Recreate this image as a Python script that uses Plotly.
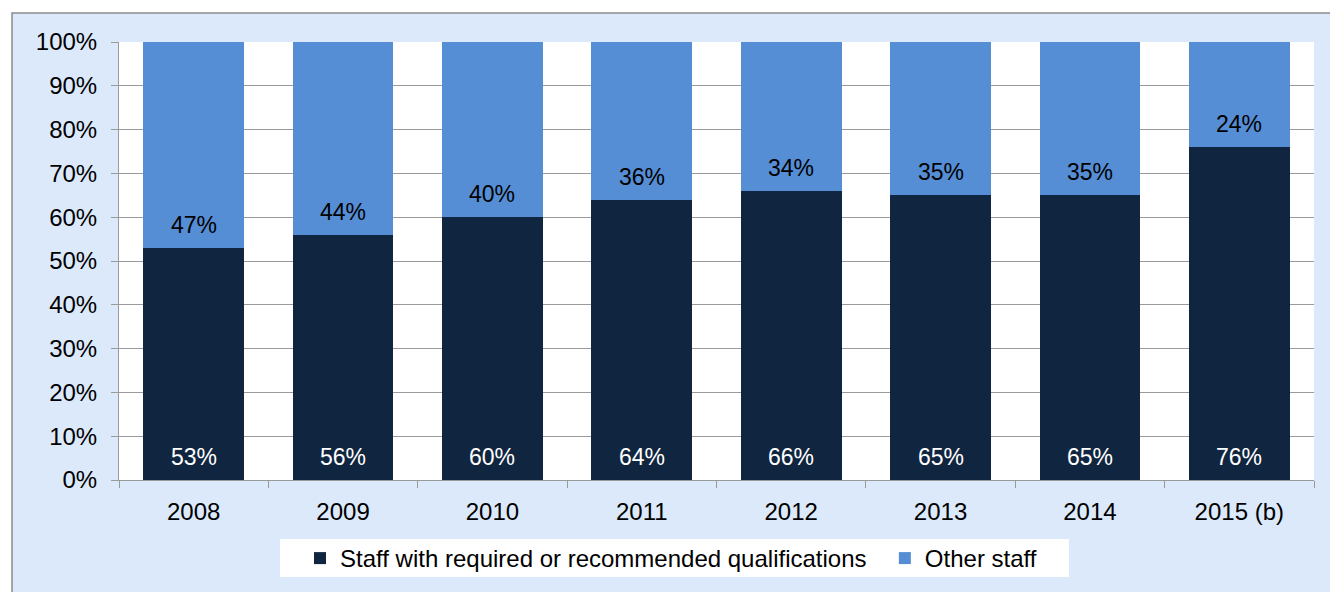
import plotly.graph_objects as go

# Share of staff by qualification status, per year (percent)
years = ["2008", "2009", "2010", "2011", "2012", "2013", "2014", "2015 (b)"]
qualified = [53, 56, 60, 64, 66, 65, 65, 76]
other = [47, 44, 40, 36, 34, 35, 35, 24]
y_ticks = list(range(0, 101, 10))
y_tick_text = [f"{v}%" for v in y_ticks]

DARK = "#10253f"
LIGHT = "#558ed5"
PANEL = "#dbe9fb"
GRID = "#9a9a9a"
FONT = "Liberation Sans, Arial, sans-serif"

W, H = 1330, 592
ML, MR, MT, MB = 119, 16, 42, 112
PW, PH = W - ML - MR, H - MT - MB


def px_x(p):
    return (p - ML) / PW


def px_y(p):
    return (H - MB - p) / PH


fig = go.Figure()
fig.add_trace(go.Bar(
    x=years, y=qualified,
    name="Staff with required or recommended qualifications\u00a0\u00a0",
    marker=dict(color=DARK, line=dict(width=0)), hoverinfo="skip",
))
fig.add_trace(go.Bar(
    x=years, y=other, name="Other staff",
    marker=dict(color=LIGHT, line=dict(width=0)), hoverinfo="skip",
))

# value labels sit just above the base of each segment
# (category axis: annotation x given as the category's serial index)
annotations = []
for i, (q, o) in enumerate(zip(qualified, other)):
    annotations.append(dict(x=i, y=0, text=f"{q}%", showarrow=False, yshift=23,
                            yanchor="middle", font=dict(color="white", size=23, family=FONT)))
    annotations.append(dict(x=i, y=q, text=f"{o}%", showarrow=False, yshift=23,
                            yanchor="middle", font=dict(color="black", size=23, family=FONT)))

shapes = [
    # chart panel with grey frame
    dict(type="rect", xref="paper", yref="paper", layer="below",
         x0=px_x(12), x1=px_x(W + 20), y0=px_y(H + 20), y1=px_y(13),
         fillcolor=PANEL, line=dict(color="#8c8c8c", width=1.5)),
    # white plotting area
    dict(type="rect", xref="paper", yref="paper", layer="below",
         x0=0, x1=1, y0=0, y1=1, fillcolor="white", line=dict(width=0)),
    # white legend box
    dict(type="rect", xref="paper", yref="paper", layer="below",
         x0=px_x(280), x1=px_x(1069), y0=px_y(577), y1=px_y(539),
         fillcolor="white", line=dict(width=0)),
]

fig.update_layout(
    width=W, height=H,
    margin=dict(l=ML, r=MR, t=MT, b=MB, pad=0, autoexpand=False),
    paper_bgcolor="white", plot_bgcolor="white",
    template="none",
    barmode="stack", bargap=0.326,
    font=dict(family=FONT, size=24, color="black"),
    showlegend=True,
    legend=dict(
        orientation="h", xref="container", yref="container",
        x=300 / W, xanchor="left", y=1 - 536 / H, yanchor="top",
        bgcolor="rgba(0,0,0,0)", borderwidth=0, font=dict(size=24, family=FONT),
        itemclick=False, itemdoubleclick=False, traceorder="normal",
    ),
    annotations=annotations,
    shapes=shapes,
    xaxis=dict(
        type="category", range=[-0.5, len(years) - 0.5],
        showline=True, linecolor=GRID, linewidth=1,
        ticks="outside", ticklen=7, tickcolor=GRID, tickwidth=1,
        tickson="boundaries", showgrid=False, zeroline=False, tickangle=0,
        tickfont=dict(size=24, family=FONT), ticklabelstandoff=10,
    ),
    yaxis=dict(
        range=[0, 100], tickvals=y_ticks, ticktext=y_tick_text,
        showline=True, linecolor=GRID, linewidth=1,
        ticks="outside", ticklen=7, tickcolor=GRID, tickwidth=1,
        showgrid=True, gridcolor=GRID, gridwidth=1, zeroline=False,
        tickfont=dict(size=24, family=FONT), ticklabelstandoff=9,
    ),
)

fig.write_html("out.html")
